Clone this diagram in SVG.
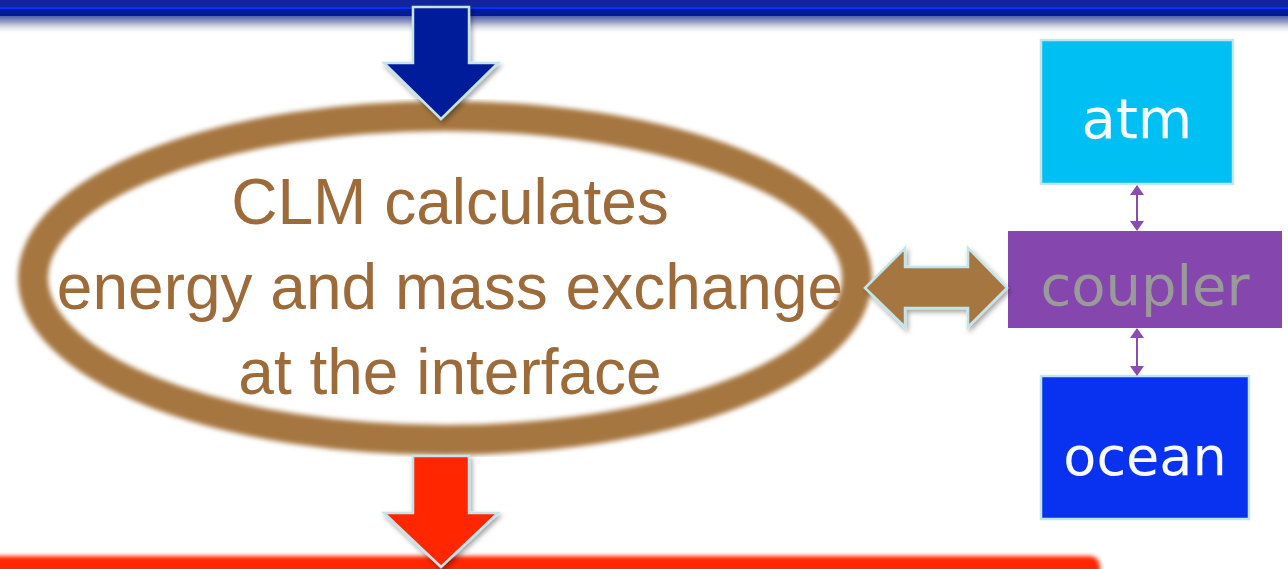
<svg xmlns="http://www.w3.org/2000/svg" width="1288" height="569" viewBox="0 0 1288 569">
  <defs>
    <linearGradient id="topfade" x1="0" y1="0" x2="0" y2="1">
      <stop offset="0" stop-color="#001a9c"/>
      <stop offset="0.3" stop-color="#0a2398"/>
      <stop offset="0.65" stop-color="#9aa0c4"/>
      <stop offset="1" stop-color="#f4f4f6" stop-opacity="0"/>
    </linearGradient>
    <filter id="blur" x="-5%" y="-5%" width="110%" height="110%">
      <feGaussianBlur stdDeviation="2.5"/>
    </filter>
    <filter id="blurbar" x="-5%" y="-50%" width="110%" height="200%">
      <feGaussianBlur stdDeviation="2"/>
    </filter>
    <filter id="shadow" x="-20%" y="-20%" width="140%" height="140%">
      <feDropShadow dx="2" dy="3" stdDeviation="2.5" flood-color="#000" flood-opacity="0.35"/>
    </filter>
    <marker id="ph" viewBox="0 0 10 10" preserveAspectRatio="none" refX="9" refY="5" markerWidth="10" markerHeight="14" orient="auto-start-reverse" markerUnits="userSpaceOnUse">
      <path d="M0,0 L10,5 L0,10 z" fill="#8a4cb0"/>
    </marker>
    <style>
      .box { stroke: #c3e5ea; stroke-width: 2.5; }
      .lbl { font-family: "DejaVu Sans", "Liberation Sans", sans-serif; font-size: 56px; text-anchor: middle; }
      .clm { font-family: "Liberation Sans", Arial, sans-serif; font-size: 64px; fill: #9d6a3a; text-anchor: middle; }
      .bigarrow { stroke: #c3e5ea; stroke-width: 2.5; stroke-linejoin: miter; filter: url(#shadow); }
      .thin { stroke: #8a4cb0; stroke-width: 2; fill: none; }
    </style>
  </defs>

  <rect width="1288" height="569" fill="#ffffff"/>

  <!-- top banner -->
  <g id="top-banner">
    <rect x="0" y="0" width="1288" height="34" fill="url(#topfade)"/>
    <rect x="0" y="0" width="1288" height="7" fill="#13249a"/>
    <rect x="0" y="7" width="1288" height="2" fill="#0033ff"/>
    <rect x="0" y="9" width="1288" height="7" fill="#001a9c"/>
  </g>

  <!-- bottom red band -->
  <g id="bottom-band">
    <rect x="-20" y="556" width="1120" height="40" rx="10" fill="#ff2800" filter="url(#blurbar)"/>
  </g>

  <!-- CLM ellipse node -->
  <g id="clm">
    <ellipse cx="445" cy="278" rx="412" ry="162" fill="none" stroke="#a67641" stroke-width="30" filter="url(#blur)"/>
    <text class="clm" x="450" y="224">CLM calculates</text>
    <text class="clm" x="450" y="309">energy and mass exchange</text>
    <text class="clm" x="450" y="394">at the interface</text>
  </g>

  <!-- atm node -->
  <g id="atm">
    <rect class="box" x="1041" y="40" width="192" height="144" fill="#00bff2"/>
    <text class="lbl" x="1137" y="138" fill="#f7fbfd">atm</text>
  </g>

  <!-- coupler node -->
  <g id="coupler">
    <rect x="1008" y="231" width="274" height="97" fill="#8547ad"/>
    <text class="lbl" x="1145" y="305" fill="#9a9a9a">coupler</text>
  </g>

  <!-- ocean node -->
  <g id="ocean">
    <rect class="box" x="1041" y="376" width="208" height="143" fill="#0832f0"/>
    <text class="lbl" x="1145" y="475" fill="#f7fbfd" style="font-size:54px">ocean</text>
  </g>

  <!-- connectors -->
  <g id="connectors">
    <path class="bigarrow" d="M413,7 L469,7 L469,63 L498,63 L441,119 L384,63 L413,63 Z" fill="#001a9a"/>
    <path class="bigarrow" d="M413,456 L469,456 L469,513 L498,513 L441,567 L384,513 L413,513 Z" fill="#ff2600"/>
    <path class="bigarrow" d="M865,288 L905,248 L905,267 L968,267 L968,248 L1007,288 L968,327 L968,308 L905,308 L905,327 Z" fill="#a67641"/>
    <line class="thin" x1="1137" y1="186" x2="1137" y2="230" marker-start="url(#ph)" marker-end="url(#ph)"/>
    <line class="thin" x1="1137" y1="329" x2="1137" y2="375" marker-start="url(#ph)" marker-end="url(#ph)"/>
  </g>
</svg>
